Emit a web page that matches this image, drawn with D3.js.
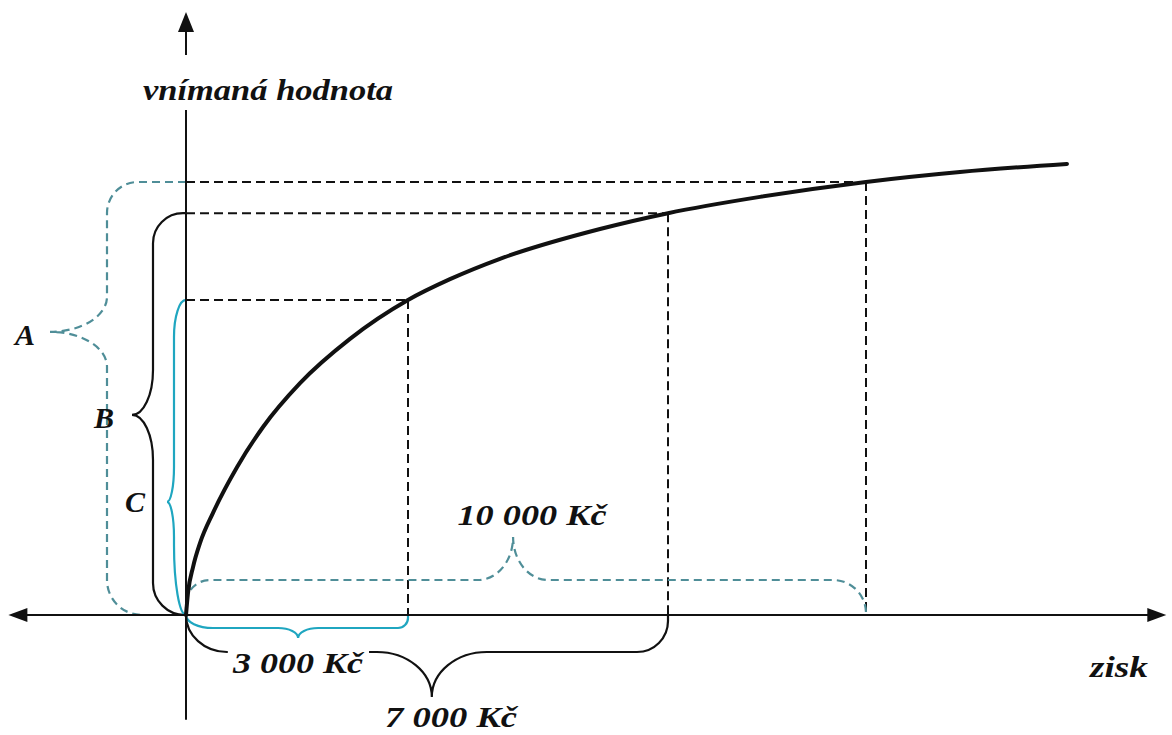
<!DOCTYPE html>
<html>
<head>
<meta charset="utf-8">
<script src="https://cdn.jsdelivr.net/npm/d3@7"></script>
<style>
  html, body { margin: 0; padding: 0; background: #fff; }
  svg { display: block; }
  text { font-family: "Liberation Serif", "Times New Roman", serif; font-style: italic; font-weight: bold; fill: #111; }
</style>
</head>
<body>
<svg id="chart" width="1172" height="735"></svg>
<script>
// ---------------- data ----------------
// value function: gain (Kč) -> perceived value (arbitrary units, 0..100)
const zisk    = [0, 27, 95, 189, 365, 689, 1041, 1541, 2216, 3000, 3646, 4415, 5954, 7000, 8394, 10000, 11424, 13045];
const hodnota = [0, 4.9, 10.6, 15.9, 22.6, 32.7, 41.6, 51.3, 61.1, 69.7, 74.3, 78.8, 85.4, 88.9, 92.5, 95.8, 98.0, 99.8];

// marked gains and their perceived values
const gains       = [3000, 7000, 10000];
const gainValues  = [69.7, 88.9, 95.8];
const gainLabels  = ["3 000 Kč", "7 000 Kč", "10 000 Kč"];
const valueLabels = ["C", "B", "A"];          // value brace for 3000, 7000, 10000

const xAxisTitle = "zisk";
const yAxisTitle = "vnímaná hodnota";
const xExtent = [-2400, 14550];
const yExtent = [-23.2, 133.4];

// ---------------- scales ----------------
const svg = d3.select("#chart");
// conceptual (non-linear) gain axis: piecewise linear through the marked gains
const x = d3.scaleLinear().domain([0, 3000, 7000, 10000]).range([186, 408, 668, 866]);
const y = d3.scaleLinear().domain([0, 100]).range([615, 163]);

const BLACK = "#111", CYAN = "#1fa6c0", CYAN_D = "#4f8e98";

// ---------------- brace generator ----------------
// local coords: u along the brace, v = depth away from axis
function bracePath(o) {
  const s = Math.sign(o.u1 - o.u0);
  const ut = o.u0 + (o.u1 - o.u0) * o.tipFrac;
  const a = o.a, T = o.T, tw = o.tw;
  const r0 = Math.min(a, o.cw0), r1 = Math.min(a, o.cw1);
  const pt = (u, v) => o.vertical ? [o.base + o.dir * v, u] : [u, o.base + o.dir * v];
  const p = d3.path();
  const M = (u, v) => p.moveTo(...pt(u, v));
  const L = (u, v) => p.lineTo(...pt(u, v));
  const C = (u1, v1, u2, v2, u3, v3) => p.bezierCurveTo(...pt(u1, v1), ...pt(u2, v2), ...pt(u3, v3));
  const k = 0.448;
  M(o.u0, 0);
  L(o.u0, a - r0);
  C(o.u0, a - k * r0, o.u0 + s * o.cw0 * k, a, o.u0 + s * o.cw0, a);
  L(ut - s * tw, a);
  C(ut - s * tw * k, a, ut, T - (T - a) * 0.552, ut, T);
  C(ut, T - (T - a) * 0.552, ut + s * tw * k, a, ut + s * tw, a);
  L(o.u1 - s * o.cw1, a);
  C(o.u1 - s * o.cw1 * k, a, o.u1, a - k * r1, o.u1, a - r1);
  L(o.u1, 0);
  return p.toString();
}

const x0 = x(0), y0 = y(0);

// ---------------- guide lines ----------------
const g = svg.append("g");
gains.forEach((gv, i) => {
  g.append("line").attr("x1", x0).attr("x2", x(gv)).attr("y1", y(gainValues[i])).attr("y2", y(gainValues[i]))
    .attr("stroke", BLACK).attr("stroke-width", 2).attr("stroke-dasharray", "9,5");
  g.append("line").attr("x1", x(gv)).attr("x2", x(gv)).attr("y1", y(gainValues[i])).attr("y2", y0)
    .attr("stroke", BLACK).attr("stroke-width", 2).attr("stroke-dasharray", "9,5");
});

// ---------------- braces ----------------
const braces = [
  // value braces (left of vertical axis)
  {vertical: true, u0: y(gainValues[2]), u1: y0, base: x0, dir: -1, a: 79, T: 136, tipFrac: 0.346, tw: 35, cw0: 31, cw1: 35, color: CYAN_D, dash: "8,5"},
  {vertical: true, u0: y(gainValues[1]), u1: y0, base: x0, dir: -1, a: 33, T: 54, tipFrac: 0.502, tw: 45, cw0: 30, cw1: 32, color: BLACK, dash: null},
  {vertical: true, u0: y(gainValues[0]), u1: y0, base: x0, dir: -1, a: 12, T: 19, tipFrac: 0.641, tw: 35, cw0: 37, cw1: 70, color: CYAN, dash: null},
  // gain braces
  {vertical: false, u0: x0, u1: x(gains[0]), base: y0, dir: 1, a: 13, T: 23, tipFrac: 0.505, tw: 20, cw0: 27, cw1: 10, color: CYAN, dash: null},
  {vertical: false, u0: x0, u1: x(gains[1]), base: y0, dir: 1, a: 37, T: 82, tipFrac: 0.51, tw: 55, cw0: 41, cw1: 31, color: BLACK, dash: null},
  {vertical: false, u0: x0, u1: x(gains[2]), base: y0, dir: -1, a: 35, T: 78, tipFrac: 0.481, tw: 35, cw0: 24, cw1: 33, color: CYAN_D, dash: "8,5"}
];
braces.forEach(b => {
  svg.append("path").attr("d", bracePath(b)).attr("fill", "none")
    .attr("stroke", b.color).attr("stroke-width", 2.2)
    .attr("stroke-dasharray", b.dash);
});

// ---------------- axes ----------------
const ax = svg.append("g");
ax.append("line").attr("x1", x(xExtent[0]) + 12).attr("x2", x(xExtent[1]) - 12).attr("y1", y0).attr("y2", y0)
  .attr("stroke", BLACK).attr("stroke-width", 2);
ax.append("line").attr("x1", x0).attr("x2", x0).attr("y1", y(yExtent[1]) + 14).attr("y2", y(yExtent[0]))
  .attr("stroke", BLACK).attr("stroke-width", 2);
// arrowheads
const xl = x(xExtent[0]), xr = x(xExtent[1]), yt = y(yExtent[1]);
ax.append("path").attr("d", `M${xr},${y0} L${xr - 19},${y0 - 7} L${xr - 19},${y0 + 7} Z`).attr("fill", BLACK);
ax.append("path").attr("d", `M${xl},${y0} L${xl + 19},${y0 - 7} L${xl + 19},${y0 + 7} Z`).attr("fill", BLACK);
ax.append("path").attr("d", `M${x0},${yt} L${x0 - 8},${yt + 20} L${x0 + 8},${yt + 20} Z`).attr("fill", BLACK);

// ---------------- curve ----------------
const pts = zisk.map((z, i) => [z, hodnota[i]]);
svg.append("path").datum(pts)
  .attr("d", d3.line().x(d => x(d[0])).y(d => y(d[1])).curve(d3.curveMonotoneX))
  .attr("fill", "none").attr("stroke", BLACK).attr("stroke-width", 4).attr("stroke-linecap", "round");

// ---------------- labels ----------------
function label(txt, cx, base, size, width, bg) {
  const t = svg.append("text").attr("x", cx).attr("y", base).attr("text-anchor", "middle")
    .attr("font-size", size).text(txt);
  if (width) t.attr("textLength", width).attr("lengthAdjust", "spacingAndGlyphs");
  if (bg) {
    const bb = t.node().getBBox();
    svg.insert("rect", () => t.node())
      .attr("x", bb.x - bg[0]).attr("y", bb.y - bg[1]).attr("width", bb.width + 2 * bg[0]).attr("height", bb.height + bg[1] + bg[2])
      .attr("fill", "#fff");
  }
  return t;
}
// y axis title (interrupts the axis)
label(yAxisTitle, 268, 100, 30, 250, [0, 18, 4]);
label(xAxisTitle, 1119, 677, 30, 58);
// value letters
label(valueLabels[2], 25, 345, 30);
label(valueLabels[1], 104, 428, 30);
label(valueLabels[0], 135, 512, 30);
// gain labels
label(gainLabels[0], 298, 673, 30, 130, [4, 0, 0]);
label(gainLabels[1], 451, 727, 30, 132);
label(gainLabels[2], 532, 525, 30, 149);
</script>
</body>
</html>
